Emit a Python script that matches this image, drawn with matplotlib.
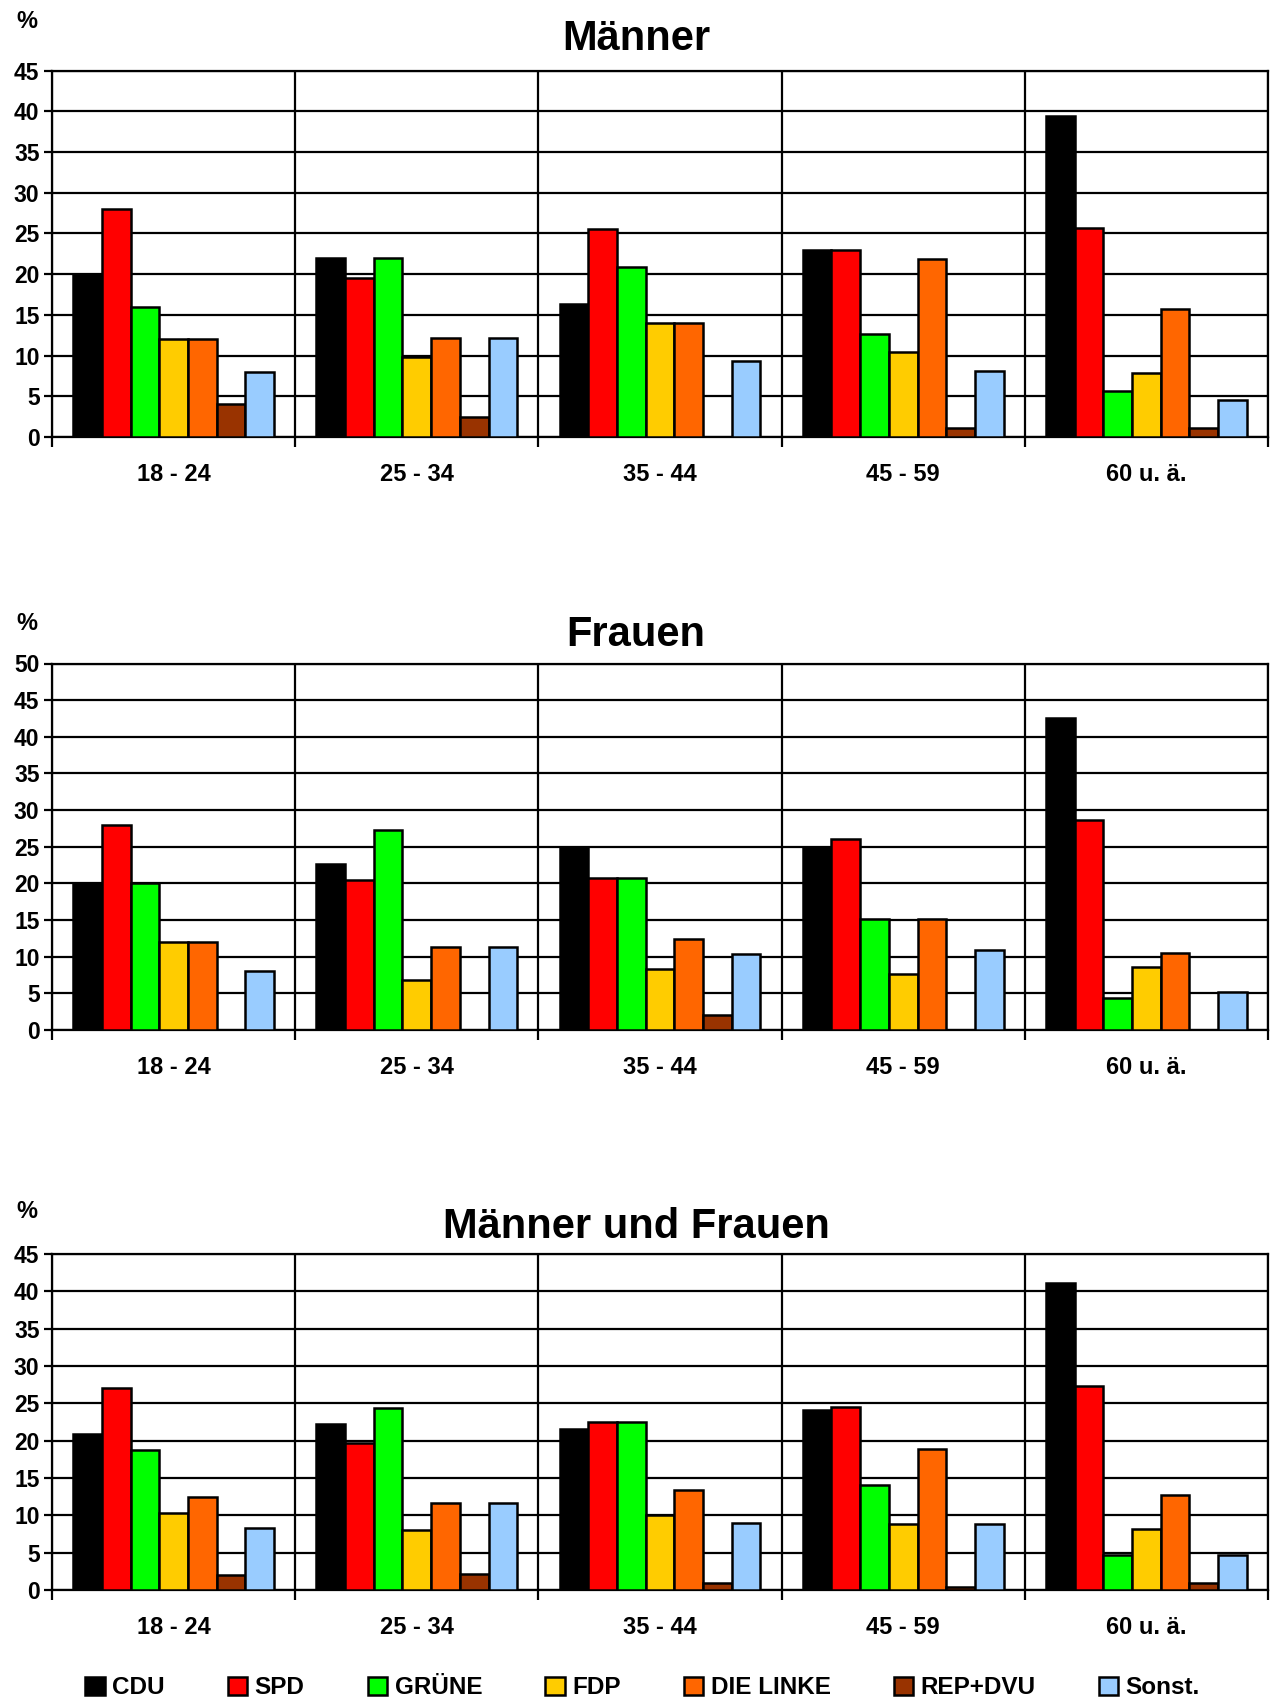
import matplotlib
matplotlib.use("Agg")
import matplotlib.pyplot as plt
import numpy as np

age_groups = ["18 - 24", "25 - 34", "35 - 44", "45 - 59", "60 u. ä."]
parties = ["CDU", "SPD", "GRÜNE", "FDP", "DIE LINKE", "REP+DVU", "Sonst."]
colors = ["#000000", "#FF0000", "#00FF00", "#FFCC00", "#FF6600", "#993300", "#99CCFF"]

# values per party, across age groups
maenner_cdu = [20.0, 22.0, 16.3, 23.0, 39.4]
maenner_spd = [28.0, 19.5, 25.5, 23.0, 25.7]
maenner_gruene = [16.0, 22.0, 20.9, 12.6, 5.7]
maenner_fdp = [12.0, 9.8, 14.0, 10.4, 7.9]
maenner_linke = [12.0, 12.2, 14.0, 21.8, 15.7]
maenner_rep = [4.0, 2.5, 0.0, 1.1, 1.1]
maenner_sonst = [8.0, 12.2, 9.3, 8.1, 4.5]

frauen_cdu = [20.0, 22.7, 25.0, 24.9, 42.6]
frauen_spd = [28.0, 20.4, 20.8, 26.0, 28.6]
frauen_gruene = [20.0, 27.3, 20.8, 15.1, 4.3]
frauen_fdp = [12.0, 6.8, 8.3, 7.6, 8.6]
frauen_linke = [12.0, 11.3, 12.4, 15.1, 10.5]
frauen_rep = [0.0, 0.0, 2.0, 0.0, 0.0]
frauen_sonst = [8.0, 11.3, 10.4, 10.9, 5.2]

alle_cdu = [20.9, 22.2, 21.5, 24.1, 41.1]
alle_spd = [27.0, 19.7, 22.5, 24.5, 27.3]
alle_gruene = [18.7, 24.4, 22.5, 14.0, 4.7]
alle_fdp = [10.3, 8.1, 10.1, 8.9, 8.2]
alle_linke = [12.4, 11.6, 13.4, 18.9, 12.7]
alle_rep = [2.0, 2.2, 1.0, 0.4, 0.9]
alle_sonst = [8.3, 11.6, 9.0, 8.9, 4.7]

panels = [
    ("Männer", 45, [maenner_cdu, maenner_spd, maenner_gruene, maenner_fdp,
                    maenner_linke, maenner_rep, maenner_sonst]),
    ("Frauen", 50, [frauen_cdu, frauen_spd, frauen_gruene, frauen_fdp,
                    frauen_linke, frauen_rep, frauen_sonst]),
    ("Männer und Frauen", 45, [alle_cdu, alle_spd, alle_gruene, alle_fdp,
                               alle_linke, alle_rep, alle_sonst]),
]

FONT = ["Liberation Sans Narrow", "Liberation Sans", "DejaVu Sans"]
plt.rcParams['font.family'] = FONT
plt.rcParams['font.weight'] = 'bold'

W, H = 1275, 1700
fig = plt.figure(figsize=(W / 100, H / 100), dpi=100)

# axes boxes in pixels: (top, bottom)
boxes = [(70.5, 437), (663.5, 1030), (1254, 1590)]
title_y = [39.5, 634.5, 1226.5]
pct_y = [21, 624, 1212]
left_px, right_px = 52, 1268

bw = 0.118
n = len(parties)
handles = None
for (title, ymax, series), (top, bot), ty, py in zip(panels, boxes, title_y, pct_y):
    ax = fig.add_axes([left_px / W, 1 - bot / H, (right_px - left_px) / W, (bot - top) / H])
    x = np.arange(len(age_groups))
    hs = []
    for i, (vals, c, name) in enumerate(zip(series, colors, parties)):
        offs = (i - (n - 1) / 2) * bw
        h = ax.bar(x + offs, vals, width=bw, color=c, edgecolor="black",
                   linewidth=1.8, label=name, zorder=3)
        hs.append(h)
    handles = hs
    ax.set_xlim(-0.5, len(age_groups) - 0.5)
    ax.set_ylim(0, ymax)
    ax.set_yticks(np.arange(0, ymax + 1, 5))
    ax.set_xticks(np.arange(len(age_groups) + 1) - 0.5)
    ax.set_xticklabels([])
    ax.set_xticks(x, minor=True)
    ax.set_xticklabels(age_groups, minor=True)
    ax.tick_params(axis='x', which='minor', length=0, pad=19, labelsize=17)
    ax.tick_params(axis='x', which='major', length=7, width=1.6, direction='out')
    ax.tick_params(axis='y', length=6, width=1.6, direction='out', pad=3, labelsize=16.5)
    for lbl in ax.get_yticklabels() + ax.get_xticklabels(minor=True):
        lbl.set_fontweight('bold')
    ax.grid(True, which='major', axis='both', color='black', linewidth=1.6)
    ax.set_axisbelow(True)
    for s in ax.spines.values():
        s.set_linewidth(1.6)
        s.set_color('black')
    fig.text(0.499, 1 - ty / H, title, ha='center', va='center', fontsize=30,
             fontweight='bold', family=["Liberation Sans", "DejaVu Sans"])
    fig.text(27 / W, 1 - py / H, "%", ha='center', va='center', fontsize=17,
             fontweight='bold')

leg = fig.legend(handles, parties, loc='center', bbox_to_anchor=(0.504, 1 - 1688 / H),
                 ncol=7, frameon=False, fontsize=17.5, handlelength=0.8, handleheight=0.8,
                 handletextpad=0.3, columnspacing=2.6, borderaxespad=0, borderpad=0)
for t in leg.get_texts():
    t.set_fontweight('bold')

fig.savefig("out.png", dpi=100, facecolor="white")
